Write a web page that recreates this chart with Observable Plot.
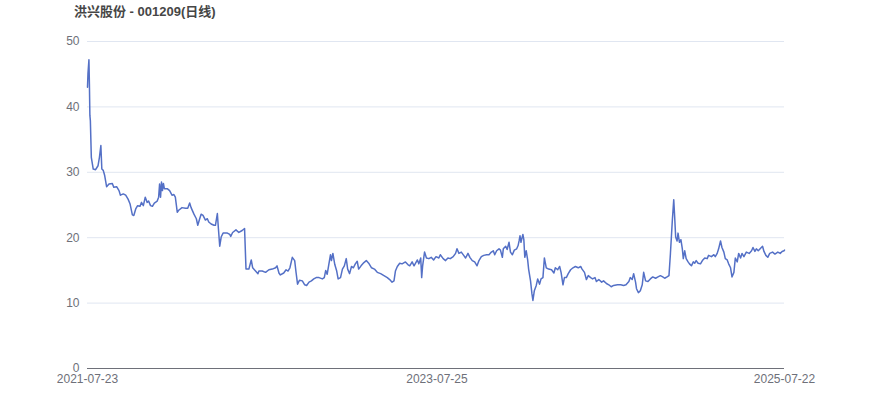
<!DOCTYPE html>
<html>
<head>
<meta charset="utf-8">
<script src="https://cdn.jsdelivr.net/npm/d3@7"></script>
<script src="https://cdn.jsdelivr.net/npm/@observablehq/plot@0.6"></script>
<style>
  html, body { margin: 0; padding: 0; background: #fff; }
  #wrap { position: relative; width: 870px; height: 417px; }
  #title { position: absolute; left: 74px; top: 1px; font: bold 13px "Liberation Sans", "Noto Sans CJK SC", sans-serif; color: #464646; white-space: nowrap; }
</style>
</head>
<body>
<div id="wrap"><div id="title">洪兴股份 - 001209(日线)</div></div>
<script>
const dates = [
"2021-07-23","2021-07-24","2021-07-26","2021-07-27","2021-07-28","2021-07-29","2021-07-31","2021-08-04","2021-08-09","2021-08-14",
"2021-08-17","2021-08-20","2021-08-22","2021-08-25","2021-08-28","2021-09-01","2021-09-06","2021-09-13","2021-09-16","2021-09-22",
"2021-09-27","2021-09-30","2021-10-06","2021-10-11","2021-10-16","2021-10-20","2021-10-25","2021-10-28","2021-11-01","2021-11-05",
"2021-11-10","2021-11-13","2021-11-17","2021-11-21","2021-11-25","2021-11-28","2021-12-02","2021-12-06","2021-12-10","2021-12-16",
"2021-12-19","2021-12-21","2021-12-23","2021-12-25","2021-12-27","2021-12-29","2021-12-31","2022-01-06","2022-01-11","2022-01-16",
"2022-01-20","2022-01-23","2022-01-27","2022-01-30","2022-02-06","2022-02-13","2022-02-18","2022-02-22","2022-02-25","2022-03-03",
"2022-03-08","2022-03-11","2022-03-15","2022-03-18","2022-03-22","2022-03-27","2022-03-31","2022-04-03","2022-04-08","2022-04-14",
"2022-04-17","2022-04-21","2022-04-23","2022-04-26","2022-04-29","2022-05-03","2022-05-12","2022-05-17","2022-05-19","2022-05-23",
"2022-05-30","2022-06-05","2022-06-12","2022-06-17","2022-06-20","2022-06-26","2022-07-01","2022-07-04","2022-07-10","2022-07-15",
"2022-07-17","2022-07-24","2022-07-31","2022-08-07","2022-08-14","2022-08-21","2022-08-24","2022-08-28","2022-08-31","2022-09-07",
"2022-09-12","2022-09-16","2022-09-20","2022-09-25","2022-09-30","2022-10-03","2022-10-06","2022-10-10","2022-10-16","2022-10-21",
"2022-10-25","2022-10-30","2022-11-04","2022-11-09","2022-11-14","2022-11-20","2022-11-27","2022-12-01","2022-12-04","2022-12-07",
"2022-12-10","2022-12-14","2022-12-16","2022-12-19","2022-12-23","2022-12-27","2022-12-30","2023-01-04","2023-01-08","2023-01-12",
"2023-01-16","2023-01-19","2023-01-23","2023-01-27","2023-01-31","2023-02-04","2023-02-08","2023-02-11","2023-02-16","2023-02-22",
"2023-02-27","2023-03-04","2023-03-10","2023-03-16","2023-03-22","2023-03-29","2023-04-05","2023-04-12","2023-04-17","2023-04-22",
"2023-04-26","2023-04-29","2023-05-03","2023-05-08","2023-05-13","2023-05-20","2023-05-25","2023-05-29","2023-06-03","2023-06-07",
"2023-06-14","2023-06-17","2023-06-21","2023-06-23","2023-06-25","2023-06-29","2023-07-03","2023-07-08","2023-07-13","2023-07-18",
"2023-07-23","2023-07-29","2023-08-01","2023-08-07","2023-08-12","2023-08-17","2023-08-22","2023-08-28","2023-09-02","2023-09-05",
"2023-09-09","2023-09-14","2023-09-19","2023-09-23","2023-09-28","2023-10-02","2023-10-07","2023-10-12","2023-10-17","2023-10-21",
"2023-10-26","2023-10-31","2023-11-06","2023-11-11","2023-11-16","2023-11-20","2023-11-23","2023-11-27","2023-12-02","2023-12-05",
"2023-12-09","2023-12-11","2023-12-16","2023-12-19","2023-12-23","2023-12-26","2023-12-30","2024-01-03","2024-01-08","2024-01-11",
"2024-01-13","2024-01-15","2024-01-17","2024-01-21","2024-01-23","2024-01-25","2024-01-28","2024-01-31","2024-02-02","2024-02-06",
"2024-02-09","2024-02-11","2024-02-14","2024-02-18","2024-02-21","2024-02-25","2024-02-28","2024-03-03","2024-03-06","2024-03-10",
"2024-03-15","2024-03-21","2024-03-26","2024-03-29","2024-04-03","2024-04-07","2024-04-10","2024-04-14","2024-04-17","2024-04-21",
"2024-04-25","2024-04-30","2024-05-05","2024-05-10","2024-05-16","2024-05-21","2024-05-24","2024-05-29","2024-06-02","2024-06-06",
"2024-06-11","2024-06-15","2024-06-20","2024-06-23","2024-06-28","2024-07-04","2024-07-08","2024-07-14","2024-07-19","2024-07-24",
"2024-07-29","2024-08-06","2024-08-13","2024-08-19","2024-08-24","2024-08-30","2024-09-02","2024-09-06","2024-09-09","2024-09-13",
"2024-09-15","2024-09-19","2024-09-23","2024-09-27","2024-09-30","2024-10-04","2024-10-09","2024-10-14","2024-10-19","2024-10-25",
"2024-10-30","2024-11-04","2024-11-09","2024-11-13","2024-11-18","2024-11-22","2024-11-25","2024-11-29","2024-12-02","2024-12-04",
"2024-12-06","2024-12-09","2024-12-11","2024-12-14","2024-12-17","2024-12-20","2024-12-22","2024-12-25","2024-12-28","2025-01-01",
"2025-01-04","2025-01-08","2025-01-12","2025-01-15","2025-01-18","2025-01-22","2025-01-27","2025-01-31","2025-02-05","2025-02-10",
"2025-02-13","2025-02-19","2025-02-24","2025-02-27","2025-03-03","2025-03-06","2025-03-10","2025-03-13","2025-03-17","2025-03-20",
"2025-03-24","2025-03-27","2025-03-31","2025-04-03","2025-04-07","2025-04-10","2025-04-14","2025-04-17","2025-04-21","2025-04-24",
"2025-04-28","2025-05-03","2025-05-09","2025-05-14","2025-05-17","2025-05-21","2025-05-24","2025-05-28","2025-06-02","2025-06-06",
"2025-06-09","2025-06-13","2025-06-17","2025-06-21","2025-06-27","2025-07-02","2025-07-08","2025-07-13","2025-07-17","2025-07-21",
"2025-07-22"
];
const closes = [
43.0,45.1,47.2,43.5,38.7,37.9,32.3,30.5,30.4,31.0,
32.3,34.1,30.5,30.3,29.5,27.8,28.2,28.3,27.7,27.8,
27.2,26.5,26.7,26.5,25.9,25.2,23.5,23.4,24.4,24.9,
24.8,25.4,24.9,26.2,25.4,25.6,24.9,24.8,25.3,25.6,
26.2,28.2,26.2,28.5,27.2,28.3,27.5,27.5,27.2,26.5,
26.6,26.2,23.9,24.2,24.6,24.5,24.5,25.3,24.6,23.6,
22.9,21.9,22.9,23.6,23.4,22.7,22.9,22.4,22.1,21.9,
21.9,23.7,21.6,18.7,20.1,20.7,20.7,20.5,20.2,20.8,
21.2,20.8,21.1,21.4,15.2,15.2,16.6,15.4,14.9,14.5,
14.9,14.9,14.7,15.1,15.2,15.4,15.7,14.6,14.3,14.6,
15.1,14.9,15.4,17.0,16.5,14.6,12.9,13.5,13.4,12.8,
12.7,13.2,13.4,13.7,13.9,13.9,13.7,13.9,15.0,14.4,
15.7,17.4,16.5,17.6,15.9,14.9,13.7,13.9,15.2,15.7,
16.8,15.2,14.5,15.6,15.4,16.0,16.4,15.2,15.7,16.2,
16.5,16.1,15.4,15.2,14.7,14.5,14.2,13.9,13.6,13.2,
13.4,14.9,15.6,16.1,16.0,16.3,15.9,15.7,16.3,15.7,
16.6,16.0,16.9,13.9,15.7,17.8,16.9,16.8,17.0,16.6,
17.1,16.9,17.4,16.8,16.5,16.9,16.8,17.1,17.6,18.3,
17.6,17.8,17.3,16.9,17.6,17.0,16.5,16.3,15.7,16.5,
17.1,17.3,17.4,17.4,17.8,18.0,17.4,18.0,18.3,18.1,
17.0,18.3,18.7,18.2,19.3,17.8,17.4,18.1,18.3,18.8,
19.5,20.3,19.3,20.5,19.7,17.0,18.0,16.6,15.2,13.4,
11.4,10.4,11.9,12.7,13.7,12.9,13.7,13.9,16.9,15.4,
15.2,15.1,14.6,15.4,15.1,15.6,14.7,12.8,13.9,13.9,
14.5,15.1,15.4,15.6,15.4,15.6,15.2,14.7,13.6,14.2,
13.9,13.7,13.9,13.3,13.6,13.2,13.4,13.0,12.8,12.5,
12.7,12.8,12.8,12.7,12.8,13.3,13.9,13.6,14.5,13.2,
12.2,11.6,11.9,12.8,14.7,13.4,13.3,13.7,14.0,13.8,
14.0,14.2,14.0,13.8,14.0,14.2,17.5,22.6,25.8,23.1,
20.1,19.5,20.7,19.3,19.7,18.3,16.8,18.0,16.8,16.3,
16.0,15.7,16.3,16.1,16.5,16.1,16.0,16.5,16.9,16.8,
17.3,17.1,17.4,17.1,17.6,18.3,19.5,18.5,17.8,16.8,
16.6,16.0,15.4,14.0,14.7,16.9,16.3,17.6,16.9,17.6,
17.1,17.8,17.6,18.0,18.5,17.9,18.3,18.0,18.4,18.7,
17.9,17.3,17.0,17.6,17.8,17.5,17.8,17.6,17.9,18.0,
18.1
];
const xTickLabels = ["2021-07-23", "2023-07-25", "2025-07-22"];
const yTicks = [0, 10, 20, 30, 40, 50];

const parse = d3.utcParse("%Y-%m-%d");
const data = dates.map((d, i) => ({date: parse(d), close: closes[i]}));
const xTicks = xTickLabels.map(parse);

const chart = Plot.plot({
  width: 870,
  height: 417,
  marginTop: 41,
  marginBottom: 49,
  marginLeft: 87,
  marginRight: 86,
  style: {fontFamily: "'Liberation Sans', Arial, sans-serif", fontSize: "12px", color: "#6e7079", background: "transparent"},
  x: {type: "utc", domain: [parse("2021-07-23"), parse("2025-07-22")], ticks: xTicks, tickFormat: d3.utcFormat("%Y-%m-%d"), tickSize: 0, tickPadding: 6, label: null},
  y: {domain: [0, 50], ticks: yTicks, tickSize: 0, tickPadding: 8, label: null},
  marks: [
    Plot.gridY(yTicks.filter(t => t > 0), {stroke: "#e0e6f1", strokeOpacity: 1, strokeWidth: 1}),
    Plot.ruleY([0], {stroke: "#6e7079", strokeWidth: 1}),
    Plot.line(data, {x: "date", y: "close", stroke: "#5470c6", strokeWidth: 1.5, strokeLinejoin: "round"})
  ]
});
document.getElementById("wrap").appendChild(chart);
</script>
</body>
</html>
